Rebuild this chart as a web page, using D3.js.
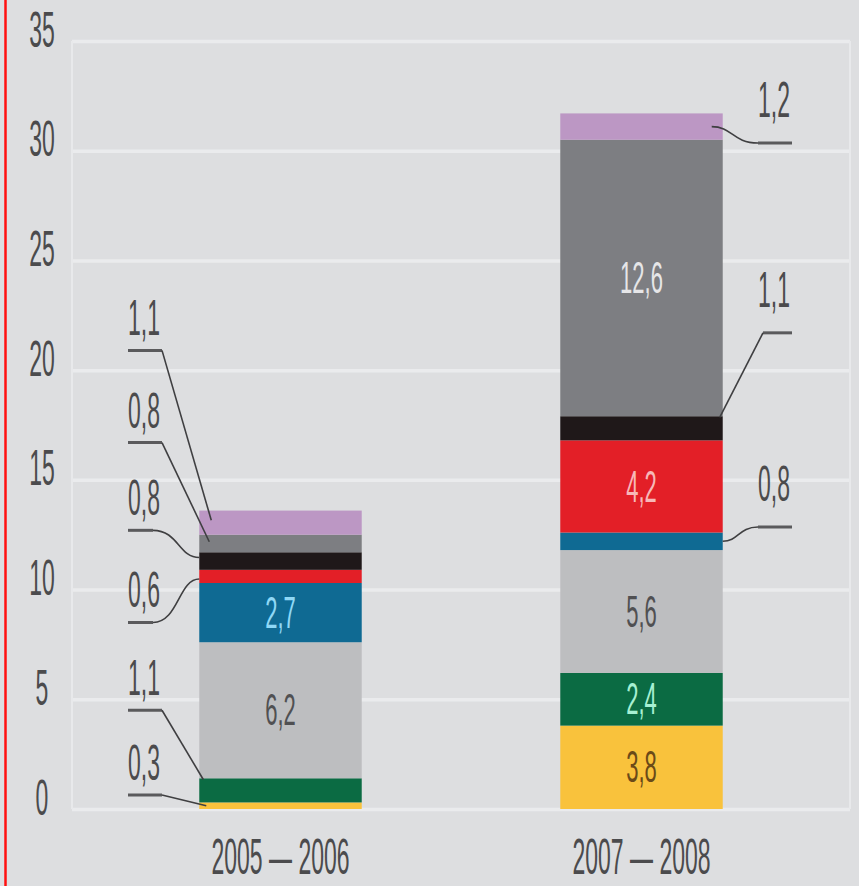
<!DOCTYPE html>
<html>
<head>
<meta charset="utf-8">
<script src="https://cdn.jsdelivr.net/npm/d3@7"></script>
<style>
  html, body { margin: 0; padding: 0; background: #dddee0; }
  svg { display: block; }
  text { font-family: "Liberation Sans", Arial, sans-serif; }
</style>
</head>
<body>
<script>
// values
const periods = ['2005 — 2006', '2007 — 2008']
const segments = ['yellow', 'green', 'lightgrey', 'blue', 'red', 'black', 'darkgrey', 'lilac']
const values2005 = [0.3, 1.1, 6.2, 2.7, 0.6, 0.8, 0.8, 1.1]
const values2007 = [3.8, 2.4, 5.6, 0.8, 4.2, 1.1, 12.6, 1.2]
const yTicks = [0, 5, 10, 15, 20, 25, 30, 35]

const colors = {
    yellow: '#f9c23c', green: '#0b6b43', lightgrey: '#bdbec0', blue: '#0f6a93',
    red: '#e31f27', black: '#1f1819', darkgrey: '#7d7e82', lilac: '#bc97c4'
}

// which values sit inside the bar, and their text colour
const inside = [
    { period: 0, key: 'lightgrey', color: '#505052' },
    { period: 0, key: 'blue', color: '#8fd8f6' },
    { period: 1, key: 'yellow', color: '#6b4a18' },
    { period: 1, key: 'green', color: '#a6f0d2' },
    { period: 1, key: 'lightgrey', color: '#505052' },
    { period: 1, key: 'red', color: '#f7b8b8' },
    { period: 1, key: 'darkgrey', color: '#e6e6e8' }
]

// callouts: underline height (in chart units), where the leader hits the segment
const callouts = [
    { period: 0, key: 'lilac', side: 'left', at: 20.9, frac: 0.6, inset: 12, curve: false },
    { period: 0, key: 'darkgrey', side: 'left', at: 16.7, frac: 0.6, inset: 10, curve: false },
    { period: 0, key: 'black', side: 'left', at: 12.7, frac: 0.7, inset: 0, curve: true },
    { period: 0, key: 'red', side: 'left', at: 8.5, frac: 0.3, inset: 0, curve: true },
    { period: 0, key: 'green', side: 'left', at: 4.5, frac: 0.95, inset: 4, curve: false },
    { period: 0, key: 'yellow', side: 'left', at: 0.64, frac: 0.5, inset: 7, curve: false },
    { period: 1, key: 'lilac', side: 'right', at: 30.35, frac: 0.5, inset: 11, curve: true },
    { period: 1, key: 'black', side: 'right', at: 21.7, frac: 0.95, inset: 3, curve: false },
    { period: 1, key: 'blue', side: 'right', at: 12.85, frac: 0.5, inset: 0, curve: true }
]

const m = { width: 859, height: 886 }
const plot = { left: 72, right: 850, top: 41, bottom: 809 }
const squeeze = 0.46
const ink = '#4b4b4d'
const fmt = d3.formatLocale({ decimal: ',', thousands: ' ', grouping: [3], currency: ['', ''] }).format('.1f')

const table = periods.map(function(p, i) {
    const row = { period: p }
    const vals = i === 0 ? values2005 : values2007
    segments.forEach(function(k, j) { row[k] = vals[j] })
    return row
})
const stacked = d3.stack().keys(segments)(table)
const layer = {}
stacked.forEach(function(s) { layer[s.key] = s })

const x = d3.scaleBand()
    .domain(periods)
    .range([100, 822])
    .paddingInner(0.55)
    .paddingOuter(0.275)

const y = d3.scaleLinear()
    .domain([0, 35])
    .range([plot.bottom, plot.top])

const svg = d3.select('body').append('svg')
    .attr('width', m.width)
    .attr('height', m.height)

svg.append('rect')
    .attr('width', m.width)
    .attr('height', m.height)
    .attr('fill', '#dddee0')

// grid + y labels via the axis
const yAxis = svg.append('g')
    .attr('transform', 'translate(' + plot.left + ',0)')
    .call(d3.axisLeft(y).tickValues(yTicks).tickSize(-(plot.right - plot.left)).tickFormat(d3.format('d')))

yAxis.select('.domain').remove()
yAxis.selectAll('.tick line')
    .attr('stroke', '#eaebed')
    .attr('stroke-width', 3.5)
yAxis.selectAll('.tick text')
    .attr('x', 0)
    .attr('y', 0)
    .attr('dy', null)
    .attr('text-anchor', 'middle')
    .attr('font-size', 50)
    .attr('fill', ink)
    .attr('transform', 'translate(-30,5) scale(' + squeeze + ',1)')

// frame sides
svg.selectAll('.side')
    .data([plot.left, plot.right])
    .enter()
    .append('line')
        .attr('x1', function(d) { return d })
        .attr('x2', function(d) { return d })
        .attr('y1', y(35))
        .attr('y2', y(0))
        .attr('stroke', '#e8e9eb')
        .attr('stroke-width', 2)

// bars
const g = svg.append('g')
g.selectAll('.layer')
    .data(stacked)
    .enter()
    .append('g')
        .attr('fill', function(d) { return colors[d.key] })
    .selectAll('rect')
    .data(function(d) { return d })
    .enter()
    .append('rect')
        .attr('x', function(d) { return x(d.data.period) })
        .attr('width', x.bandwidth())
        .attr('y', function(d) { return y(d[1]) })
        .attr('height', function(d) { return y(d[0]) - y(d[1]) })

// values inside the bars
svg.selectAll('.inner')
    .data(inside)
    .enter()
    .append('text')
        .attr('text-anchor', 'middle')
        .attr('dominant-baseline', 'central')
        .attr('font-size', 44)
        .attr('fill', function(d) { return d.color })
        .attr('transform', function(d) {
            const seg = layer[d.key][d.period]
            const cx = x(periods[d.period]) + x.bandwidth() / 2
            const cy = y((seg[0] + seg[1]) / 2)
            return 'translate(' + cx + ',' + cy + ') scale(0.5,1)'
        })
        .text(function(d) {
            const seg = layer[d.key][d.period]
            return fmt(seg[1] - seg[0])
        })

// callouts outside the bars
callouts.forEach(function(c) {
    const seg = layer[c.key][c.period]
    const left = x(periods[c.period])
    const ly = y(c.at)
    const ty = y(seg[0] + (seg[1] - seg[0]) * c.frac)
    let ux0, ux1, sx, tx, txtX, gap
    if (c.side === 'left') {
        ux0 = 128; ux1 = c.curve ? 153 : 162
        sx = ux1; tx = left + c.inset; txtX = 128; gap = 15
    } else {
        ux0 = c.curve ? 758 : 763; ux1 = 792
        sx = ux0; tx = left + x.bandwidth() - c.inset; txtX = 758; gap = 26
    }

    svg.append('line')
        .attr('x1', ux0).attr('x2', ux1)
        .attr('y1', ly).attr('y2', ly)
        .attr('stroke', '#5a5a5c')
        .attr('stroke-width', 3)

    let d
    if (c.curve) {
        const dx = tx - sx
        d = 'M' + sx + ',' + ly + ' C' + (sx + dx * 0.55) + ',' + ly + ' ' + (tx - dx * 0.45) + ',' + ty + ' ' + tx + ',' + ty
    } else {
        d = 'M' + sx + ',' + ly + ' L' + tx + ',' + ty
    }
    svg.append('path')
        .attr('d', d)
        .attr('fill', 'none')
        .attr('stroke', '#3f3f41')
        .attr('stroke-width', 1.6)

    svg.append('text')
        .attr('text-anchor', 'start')
        .attr('font-size', 50)
        .attr('fill', ink)
        .attr('transform', 'translate(' + txtX + ',' + (ly - gap) + ') scale(' + squeeze + ',1)')
        .text(fmt(seg[1] - seg[0]))
})

// period labels
svg.selectAll('.period')
    .data(periods)
    .enter()
    .append('text')
        .attr('text-anchor', 'middle')
        .attr('font-size', 50)
        .attr('fill', ink)
        .attr('transform', function(d) {
            return 'translate(' + (x(d) + x.bandwidth() / 2) + ',874) scale(' + squeeze + ',1)'
        })
        .text(function(d) { return d })

// cropped margin of the source page
svg.append('line')
    .attr('x1', 5.5).attr('x2', 5.5)
    .attr('y1', 0).attr('y2', m.height)
    .attr('stroke', '#ff1010')
    .attr('stroke-width', 2.5)
</script>
</body>
</html>
